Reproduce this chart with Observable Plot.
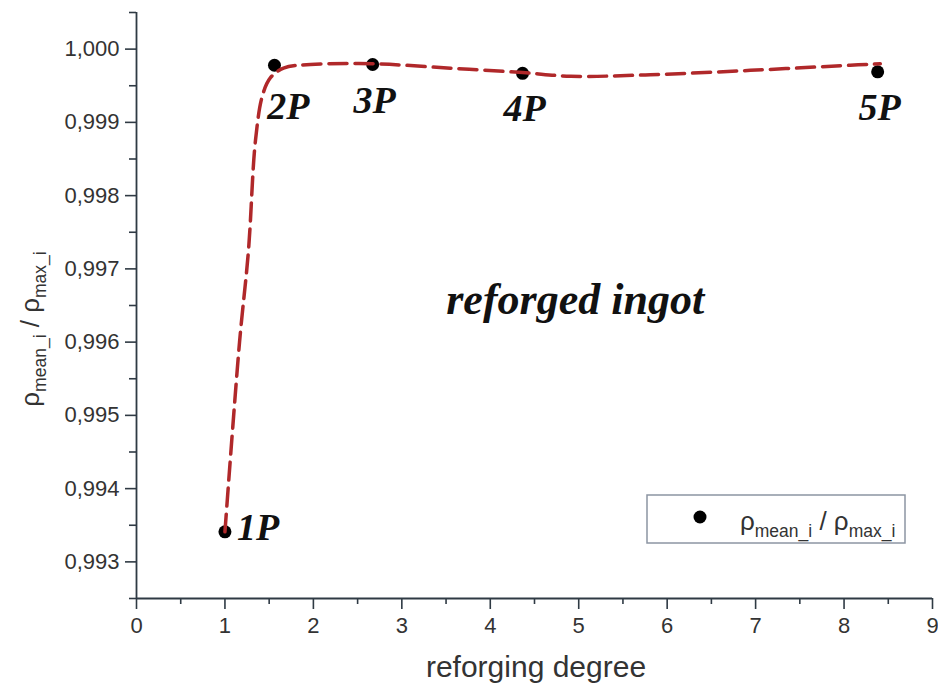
<!DOCTYPE html>
<html>
<head>
<meta charset="utf-8">
<script src="https://cdn.jsdelivr.net/npm/d3@7"></script>
<script src="https://cdn.jsdelivr.net/npm/@observablehq/plot@0.6"></script>
<style>
  html, body { margin: 0; padding: 0; background: #fff; }
</style>
</head>
<body>
<div id="chart"></div>
<script>
// measured points
const pointX = [1.0, 1.56, 2.67, 4.365, 8.38];
const pointY = [0.99341, 0.99978, 0.99979, 0.99967, 0.99969];
const pointLabels = ["1P", "2P", "3P", "4P", "5P"];

// dashed fitted curve
const fitX = [1.0, 1.165, 1.266, 1.345, 1.425, 1.515, 1.662, 1.967, 2.668, 3.55, 4.365, 4.91, 5.81, 6.94, 8.07, 8.41];
const fitY = [0.99341, 0.99600, 0.99725, 0.99875, 0.99937, 0.99961, 0.99974, 0.99979, 0.99980, 0.99974, 0.99968, 0.99963, 0.99965, 0.99971, 0.99978, 0.99980];

// axes
const xMajor = [0, 1, 2, 3, 4, 5, 6, 7, 8, 9];
const xMinor = [0.5, 1.5, 2.5, 3.5, 4.5, 5.5, 6.5, 7.5, 8.5];
const yMajor = [0.993, 0.994, 0.995, 0.996, 0.997, 0.998, 0.999, 1.000];
const yMinor = [0.9925, 0.9935, 0.9945, 0.9955, 0.9965, 0.9975, 0.9985, 0.9995, 1.0005];
const xTitle = "reforging degree";
const annotText = ["reforged ingot"];
const annotX = [4.96];
const annotY = [0.99657];

const points = pointX.map((x, i) => ({x, y: pointY[i], label: pointLabels[i]}));
const fit = fitX.map((x, i) => ({x, y: fitY[i]}));
const annot = annotText.map((t, i) => ({x: annotX[i], y: annotY[i], t}));

const axisColor = "#2f3a44";
const fmtY = d => d3.format(".3f")(d).replace(".", ",");
const serif = "'Liberation Serif', 'DejaVu Serif', serif";

const chart = Plot.plot({
  width: 938,
  height: 690,
  marginLeft: 136,
  marginRight: 6,
  marginTop: 12,
  marginBottom: 92,
  x: {domain: [0, 9]},
  y: {domain: [0.9925, 1.0005]},
  style: {fontFamily: "'Liberation Sans', Arial, sans-serif", background: "#fff", color: "#333"},
  marks: [
    Plot.axisY({ticks: yMajor, tickSize: 11, tickPadding: 6, tickFormat: fmtY, fontSize: 22, label: null, stroke: axisColor, strokeWidth: 1.6, fill: "#333"}),
    Plot.axisY({ticks: yMinor, tickSize: 7, tickFormat: () => "", label: null, stroke: axisColor, strokeWidth: 1.6}),
    Plot.axisX({ticks: xMajor, tickSize: 11, tickPadding: 8, fontSize: 22, label: null, stroke: axisColor, strokeWidth: 1.6, fill: "#333"}),
    Plot.axisX({ticks: xMinor, tickSize: 6, tickFormat: () => "", label: null, stroke: axisColor, strokeWidth: 1.6}),
    Plot.ruleX([0], {stroke: axisColor, strokeWidth: 1.8}),
    Plot.ruleY([0.9925], {stroke: axisColor, strokeWidth: 1.8}),
    Plot.dot(points, {x: "x", y: "y", r: 6.5, fill: "#000", stroke: "none"}),
    Plot.line(fit, {x: "x", y: "y", curve: "catmull-rom", stroke: "#b0282a", strokeWidth: 3.5, strokeDasharray: "18,8"}),
    Plot.text(points.filter(d => d.label === "1P"), {x: "x", y: "y", text: "label", textAnchor: "start", dx: 12, dy: -4, fontSize: 38, fontStyle: "italic", fontWeight: "bold", fontFamily: serif, fill: "#111"}),
    Plot.text(points.filter(d => d.label === "2P"), {x: "x", y: "y", text: "label", dx: 14, dy: 42, fontSize: 38, fontStyle: "italic", fontWeight: "bold", fontFamily: serif, fill: "#111"}),
    Plot.text(points.filter(d => d.label !== "1P" && d.label !== "2P"), {x: "x", y: "y", text: "label", dx: 2, dy: 36, fontSize: 38, fontStyle: "italic", fontWeight: "bold", fontFamily: serif, fill: "#111"}),
    Plot.text(annot, {x: "x", y: "y", text: "t", fontSize: 44, fontStyle: "italic", fontWeight: "bold", fontFamily: serif, fill: "#111"})
  ]
});

const svg = d3.select(chart);
// x axis title
svg.append("text")
  .attr("x", 536).attr("y", 677)
  .attr("text-anchor", "middle")
  .attr("font-size", 30)
  .attr("fill", "#333")
  .text(xTitle);

// y axis title with subscripts
function rhoLabel(sel, size, subSize) {
  sel.append("tspan").attr("font-size", size).text("ρ");
  sel.append("tspan").attr("font-size", subSize).attr("dy", 7).text("mean_i");
  sel.append("tspan").attr("font-size", size).attr("dy", -7).text(" / ρ");
  sel.append("tspan").attr("font-size", subSize).attr("dy", 7).text("max_i");
}
const yt = svg.append("text")
  .attr("transform", "translate(39,329) rotate(-90)")
  .attr("text-anchor", "middle")
  .attr("fill", "#333");
rhoLabel(yt, 26, 17.5);

// legend
const lg = svg.append("g");
lg.append("rect").attr("x", 647).attr("y", 495).attr("width", 258).attr("height", 48)
  .attr("fill", "#fff").attr("stroke", "#8c95a3").attr("stroke-width", 1.5);
lg.append("circle").attr("cx", 700).attr("cy", 517).attr("r", 6.5).attr("fill", "#000");
const lt = lg.append("text").attr("x", 740).attr("y", 530).attr("text-anchor", "start").attr("fill", "#333");
rhoLabel(lt, 26, 17.5);

document.getElementById("chart").appendChild(chart);
</script>
</body>
</html>
